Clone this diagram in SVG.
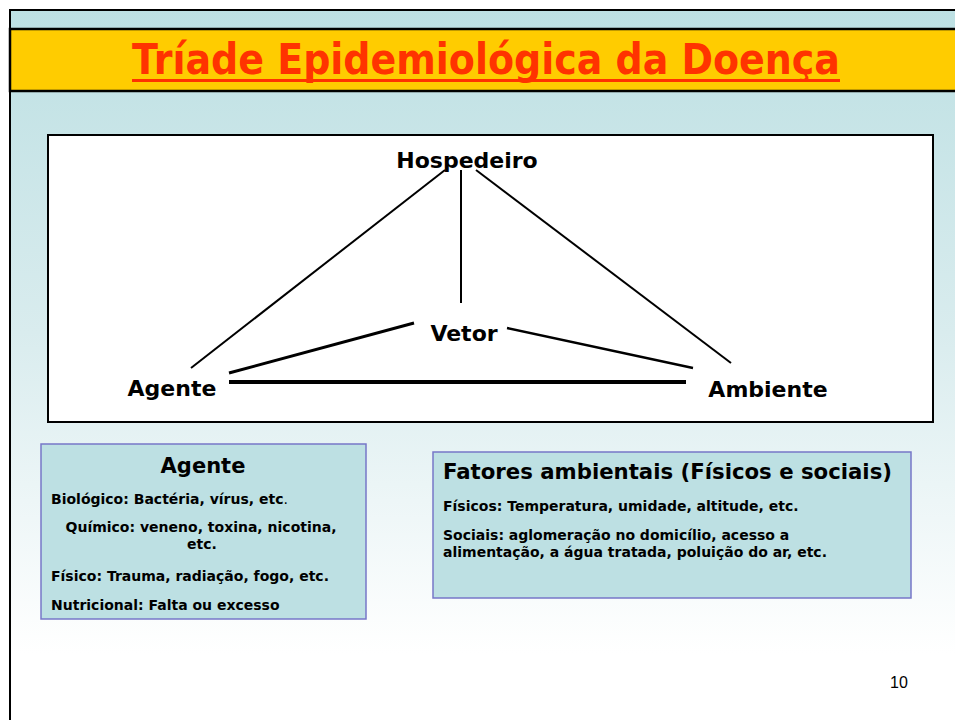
<svg xmlns="http://www.w3.org/2000/svg" width="955" height="720" viewBox="0 0 955 720">
<defs>
<linearGradient id="bg" x1="0" y1="0" x2="0" y2="1">
<stop offset="0" stop-color="#bde0e3"/>
<stop offset="0.45" stop-color="#d9ecee"/>
<stop offset="0.9" stop-color="#ffffff"/>
<stop offset="1" stop-color="#ffffff"/>
</linearGradient>
<style>
.lbl{font-family:"DejaVu Sans",Verdana,sans-serif;font-weight:bold;font-size:22px;fill:#000}
.bt{font-family:"DejaVu Sans",Verdana,sans-serif;font-weight:bold;font-size:21px;fill:#000}
.tx{font-family:"DejaVu Sans",Verdana,sans-serif;font-weight:bold;font-size:14px;fill:#000}
.box{fill:#bde0e3;stroke:#7777c8;stroke-width:1.5}
.ln{stroke:#000;fill:none}
</style>
</defs>
<rect x="0" y="0" width="955" height="720" fill="#ffffff"/>
<rect x="10" y="10" width="950" height="715" fill="url(#bg)" stroke="#000" stroke-width="2"/>
<g id="title">
<rect x="10" y="29" width="950" height="62" fill="#ffcc00" stroke="#000" stroke-width="2.5"/>
<text x="132" y="74" font-family="'DejaVu Sans',Verdana,sans-serif" font-weight="bold" font-size="42" fill="#ff3300" textLength="708" lengthAdjust="spacingAndGlyphs">Tríade Epidemiológica da Doença</text>
<rect x="132" y="79" width="708" height="3" fill="#ff3300"/>
</g>
<g id="diagram-frame">
<rect x="48" y="135" width="885" height="287" fill="#ffffff" stroke="#000" stroke-width="2"/>
</g>
<g id="connectors">
<line class="ln" x1="445" y1="170" x2="191" y2="368" stroke-width="2"/>
<line class="ln" x1="461" y1="170" x2="461" y2="303" stroke-width="2"/>
<line class="ln" x1="476" y1="170" x2="731" y2="363" stroke-width="2"/>
<line class="ln" x1="414" y1="323" x2="229" y2="373" stroke-width="3"/>
<line class="ln" x1="507" y1="328" x2="693" y2="368" stroke-width="2.5"/>
<line class="ln" x1="229" y1="382" x2="686" y2="382" stroke-width="4"/>
</g>
<g id="hospedeiro"><text class="lbl" x="467" y="168" text-anchor="middle">Hospedeiro</text></g>
<g id="vetor"><text class="lbl" x="464" y="341" text-anchor="middle">Vetor</text></g>
<g id="agente"><text class="lbl" x="172" y="396" text-anchor="middle">Agente</text></g>
<g id="ambiente"><text class="lbl" x="768" y="397" text-anchor="middle">Ambiente</text></g>
<g id="agente-box">
<rect class="box" x="41" y="444" width="325" height="175"/>
<text class="bt" x="203" y="473" text-anchor="middle">Agente</text>
<text class="tx" x="51" y="504">Biológico: Bactéria, vírus, etc<tspan font-weight="normal">.</tspan></text>
<text class="tx" x="201" y="532" text-anchor="middle">Químico: veneno, toxina, nicotina,</text>
<text class="tx" x="202" y="549" text-anchor="middle">etc.</text>
<text class="tx" x="51" y="581">Físico: Trauma, radiação, fogo, etc.</text>
<text class="tx" x="51" y="610">Nutricional: Falta ou excesso</text>
</g>
<g id="ambiente-box">
<rect class="box" x="433" y="452" width="478" height="146"/>
<text class="bt" x="443" y="479" textLength="449" lengthAdjust="spacingAndGlyphs">Fatores ambientais (Físicos e sociais)</text>
<text class="tx" x="443" y="511">Físicos: Temperatura, umidade, altitude, etc.</text>
<text class="tx" x="443" y="540">Sociais: aglomeração no domicílio, acesso a</text>
<text class="tx" x="443" y="557">alimentação, a água tratada, poluição do ar, etc.</text>
</g>
<g id="page-number"><text x="890" y="688" font-family="'Liberation Sans',Arial,sans-serif" font-size="16" fill="#000">10</text></g>
</svg>
